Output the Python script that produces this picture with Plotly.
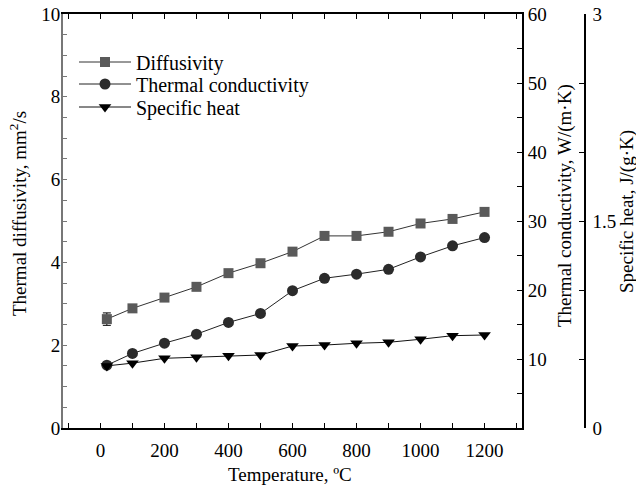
import plotly.graph_objects as go

temperature = [20, 100, 200, 300, 400, 500, 600, 700, 800, 900, 1000, 1100, 1200]
diffusivity = [2.63, 2.89, 3.15, 3.41, 3.74, 3.98, 4.26, 4.64, 4.64, 4.74, 4.94, 5.05, 5.22]
diffusivity_err = [0.15, 0, 0, 0, 0, 0, 0, 0, 0, 0, 0, 0, 0]
conductivity = [9.1, 10.8, 12.3, 13.6, 15.3, 16.6, 19.9, 21.7, 22.3, 23.0, 24.8, 26.4, 27.6]
specific_heat = [0.45, 0.47, 0.505, 0.512, 0.524, 0.529, 0.594, 0.601, 0.614, 0.621, 0.643, 0.669, 0.674]

x_ticks = [0, 200, 400, 600, 800, 1000, 1200]
y1_ticks = [0, 2, 4, 6, 8, 10]
y2_ticks = [10, 20, 30, 40, 50, 60]
y3_ticks = [0, 1.5, 3]

FONT = "Liberation Serif"
TICK_SIZE = 19
W, H = 636, 485
# target plot-area pixel positions
PL, PR, PT, PB = 63, 522, 14, 428
L, T, B, R = PL, PT, H - PB, 0
plot_w = W - L - R
plot_h = PB - PT

def px_x(px):
    return (px - PL) / plot_w

def px_y(py):
    return (PB - py) / plot_h

fig = go.Figure()

fig.add_trace(go.Scatter(
    x=temperature, y=diffusivity, name="Diffusivity", mode="lines+markers",
    line=dict(color="#333333", width=1),
    marker=dict(symbol="square", size=10, color="#5a5a5a"),
    error_y=dict(type="data", array=diffusivity_err, visible=True, color="#000000",
                 thickness=1, width=4),
    yaxis="y", legend="legend",
))
fig.add_trace(go.Scatter(
    x=temperature, y=conductivity, name="Thermal conductivity", mode="lines+markers",
    line=dict(color="#222222", width=1),
    marker=dict(symbol="circle", size=11, color="#2b2b2b"),
    yaxis="y2", legend="legend2",
))
fig.add_trace(go.Scatter(
    x=temperature, y=specific_heat, name="Specific heat", mode="lines+markers",
    line=dict(color="#111111", width=1),
    marker=dict(symbol="triangle-down", size=11, color="#000000"),
    yaxis="y3", legend="legend3",
))

def legend_at(row_y):
    return dict(x=px_x(74), y=px_y(row_y), xanchor="left", yanchor="middle",
                bgcolor="rgba(0,0,0,0)", font=dict(family=FONT, size=20),
                itemwidth=52, borderwidth=0)

fig.update_layout(
    width=W, height=H,
    margin=dict(l=L, r=R, t=T, b=B, pad=0),
    paper_bgcolor="white", plot_bgcolor="white",
    font=dict(family=FONT, size=20, color="#000000"),
    showlegend=True,
    legend=legend_at(62),
    legend2=legend_at(84),
    legend3=legend_at(107),
    xaxis=dict(
        domain=[0, px_x(PR)], range=[-117, 1317],
        tickvals=x_ticks, ticks="inside", ticklen=5, tickwidth=1, tickcolor="#000",
        minor=dict(dtick=100, tick0=0, ticks="inside", ticklen=5, tickwidth=1, tickcolor="#000"),
        showline=True, linecolor="#000", linewidth=2, mirror="ticks",
        showgrid=False, zeroline=False, ticklabelstandoff=4,
        tickfont=dict(family=FONT, size=TICK_SIZE),
    ),
    yaxis=dict(
        range=[0, 10], tickvals=y1_ticks, ticks="inside", ticklen=4, tickwidth=1, tickcolor="#777",
        minor=dict(dtick=0.5, tick0=0, ticks="inside", ticklen=4, tickwidth=1, tickcolor="#777"),
        showline=True, linecolor="#777", linewidth=2,
        showgrid=False, zeroline=False, ticklabelstandoff=-3,
        tickfont=dict(family=FONT, size=TICK_SIZE),
    ),
    yaxis2=dict(
        range=[0, 60], tickvals=y2_ticks, side="right", overlaying="y", anchor="x",
        ticks="inside", ticklen=5, tickwidth=1, tickcolor="#000",
        minor=dict(dtick=5, tick0=0, ticks="inside", ticklen=5, tickwidth=1, tickcolor="#000"),
        showline=True, linecolor="#000", linewidth=2,
        showgrid=False, zeroline=False, ticklabelstandoff=0,
        tickfont=dict(family=FONT, size=TICK_SIZE),
    ),
    yaxis3=dict(
        range=[0, 3], tickvals=y3_ticks, side="right", overlaying="y", anchor="free",
        position=px_x(585),
        ticks="inside", ticklen=5, tickwidth=1, tickcolor="#000",
        minor=dict(dtick=0.5, tick0=0, ticks="inside", ticklen=5, tickwidth=1, tickcolor="#000"),
        showline=True, linecolor="#000", linewidth=1.5,
        showgrid=False, zeroline=False, ticklabelstandoff=3,
        tickfont=dict(family=FONT, size=TICK_SIZE),
    ),
    annotations=[
        dict(text="Temperature, ºC", xref="paper", yref="paper",
             x=px_x(290), y=px_y(474), xanchor="center", yanchor="middle",
             showarrow=False, font=dict(family=FONT, size=19)),
        dict(text="Thermal diffusivity, mm<sup>2</sup>/s", xref="paper", yref="paper",
             x=px_x(18), y=px_y(214), xanchor="center", yanchor="middle", textangle=-90,
             showarrow=False, font=dict(family=FONT, size=19)),
        dict(text="Thermal conductivity, W/(m·K)", xref="paper", yref="paper",
             x=px_x(565), y=px_y(206), xanchor="center", yanchor="middle", textangle=-90,
             showarrow=False, font=dict(family=FONT, size=19)),
        dict(text="Specific heat, J/(g·K)", xref="paper", yref="paper",
             x=px_x(627), y=px_y(212), xanchor="center", yanchor="middle", textangle=-90,
             showarrow=False, font=dict(family=FONT, size=19)),
    ],
)

fig.write_html("out.html", config={"displayModeBar": False},
               post_script="document.body.style.margin='0';")
